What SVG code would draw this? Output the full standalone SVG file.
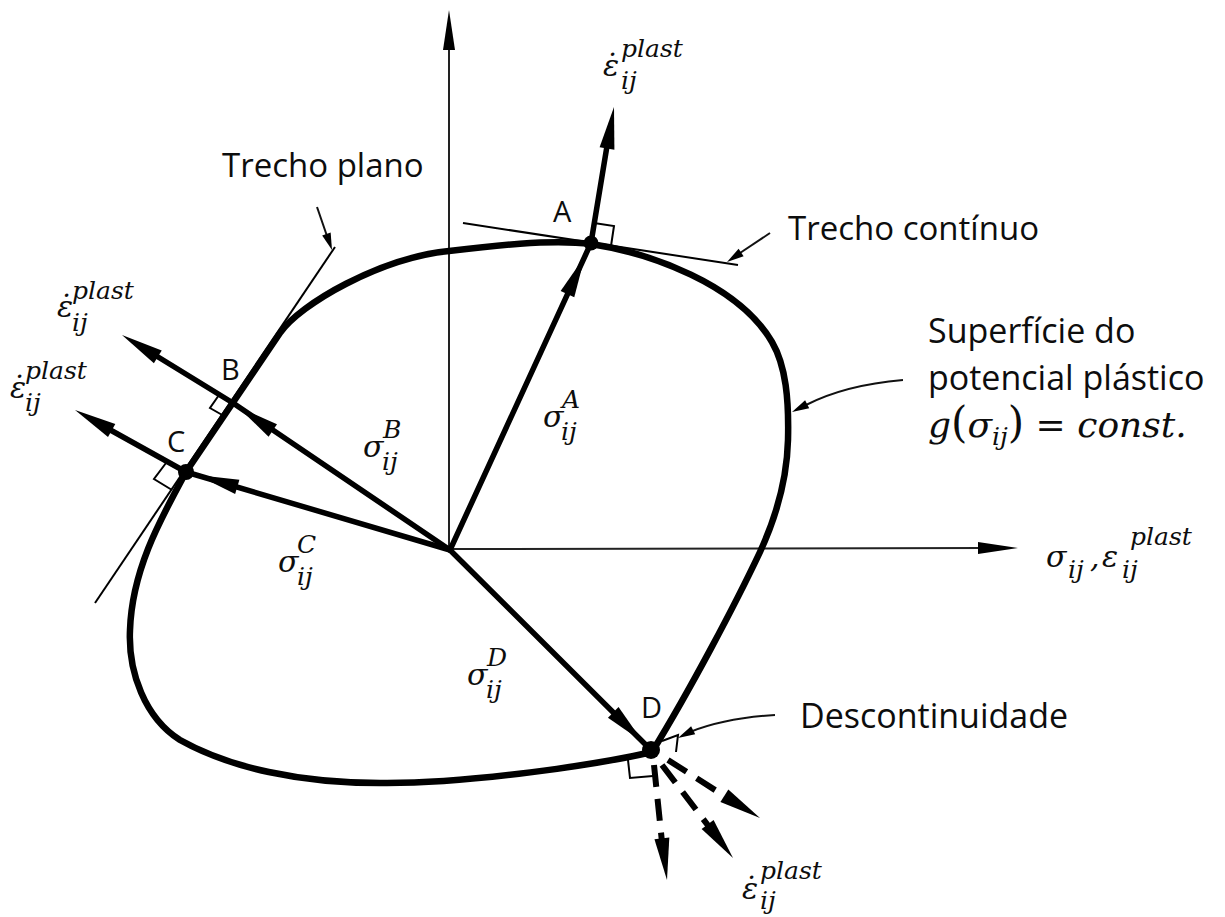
<svg xmlns="http://www.w3.org/2000/svg" width="1225" height="917" viewBox="0 0 1225 917">
<defs>
<path id="ah" d="M0,0 L-42,-7.5 L-42,7.5 Z"/>
<path id="aax" d="M0,0 L-40,-6 L-40,6 Z"/>
<path id="ahs" d="M0,0 L-17,-4.5 L-17,4.5 Z"/>
</defs>
<style>
.ax{stroke:#222;stroke-width:2;fill:none}
.vec{stroke:#000;stroke-width:5.5;fill:none;stroke-linecap:round}
.curve{stroke:#000;stroke-width:6.5;fill:none;stroke-linejoin:round}
.thin{stroke:#000;stroke-width:2;fill:none}
.lead{stroke:#111;stroke-width:2;fill:none}
.sq{stroke:#000;stroke-width:2;fill:none}
.dash{stroke:#000;stroke-width:6;fill:none;stroke-dasharray:22 12}
.lbl{font-family:"Open Sans","Liberation Sans",sans-serif;fill:#0d0d0d;font-size:33px}
.pt{font-family:"Open Sans","Liberation Sans",sans-serif;fill:#0d0d0d;font-size:29px}
.m{font-family:"DejaVu Serif","Liberation Serif",serif;font-style:italic;fill:#0d0d0d;font-size:30px}
.s{font-size:25px}
</style>
<rect width="1225" height="917" fill="#fff"/>

<g id="axes">
<line class="ax" x1="449" y1="552" x2="449" y2="45"/>
<use href="#aax" transform="translate(449,10) rotate(-90)"/>
<line class="ax" x1="450" y1="549" x2="985" y2="548"/>
<use href="#aax" transform="translate(1018,548)"/>
</g>

<g id="surface">
<path class="curve" d="M186,472 L280,333 C300,304 380,258 449,251 C490,246 550,239 591,244 C650,253 738,284 772,342 C786,366 789,400 788,440 C787,480 777,515 760,552 C735,605 690,690 652,752 C600,764 470,784 380,783 C300,783 230,768 180,740 C145,718 128,672 130,630 C132,570 160,520 186,472 Z"/>
</g>

<g id="connectors">
<line class="thin" x1="95" y1="603" x2="335" y2="247"/>
<line class="thin" x1="463" y1="223" x2="738" y2="265"/>
<line class="vec" x1="450" y1="550" x2="591" y2="243"/>
<use href="#ah" transform="translate(585,256) rotate(-65.3)"/>
<line class="vec" x1="450" y1="550" x2="233" y2="403"/>
<use href="#ah" transform="translate(238,407) rotate(-145.9)"/>
<line class="vec" x1="450" y1="550" x2="186" y2="472"/>
<use href="#ah" transform="translate(197,475) rotate(-163.5)"/>
<line class="vec" x1="450" y1="550" x2="651" y2="750"/>
<use href="#ah" transform="translate(643,742) rotate(44.9)"/>
<line class="lead" x1="317" y1="207" x2="327" y2="236"/>
<use href="#ahs" transform="translate(332,250) rotate(70.8)"/>
<line class="lead" x1="770" y1="233" x2="740" y2="253"/>
<use href="#ahs" transform="translate(727,262) rotate(146)"/>
<path class="lead" d="M903,380 Q845,385 806,405"/>
<use href="#ahs" transform="translate(792,412) rotate(153)"/>
<path class="lead" d="M775,715 Q725,718 690,732"/>
<use href="#ahs" transform="translate(678,738) rotate(153)"/>
</g>

<g id="nodeA">
<line class="vec" x1="591" y1="243" x2="608" y2="140"/>
<use href="#ah" transform="translate(614,107) rotate(-80.4)"/>
<path class="sq" d="M594,223 L614,226 L611,246"/>
<circle cx="591" cy="243" r="7.5"/>
<text class="pt" x="553" y="222">A</text>
</g>

<g id="nodeB">
<line class="vec" x1="233" y1="403" x2="150" y2="352"/>
<use href="#ah" transform="translate(122,335) rotate(-148.5)"/>
<path class="sq" d="M219,395 L210,408 L224,416"/>
<text class="pt" x="221" y="380">B</text>
</g>

<g id="nodeC">
<line class="vec" x1="186" y1="472" x2="105" y2="427"/>
<use href="#ah" transform="translate(75,410) rotate(-150.8)"/>
<path class="sq" d="M166,463 L154,479 L172,490"/>
<circle cx="186" cy="472" r="8"/>
<text class="pt" x="167" y="452">C</text>
</g>

<g id="nodeD">
<line class="dash" x1="654" y1="765" x2="662" y2="842"/>
<use href="#ah" transform="translate(667,880) rotate(83)"/>
<line class="dash" x1="662" y1="765" x2="710" y2="828"/>
<use href="#ah" transform="translate(733,858) rotate(52.8)"/>
<line class="dash" x1="668" y1="760" x2="726" y2="797"/>
<use href="#ah" transform="translate(760,818) rotate(32)"/>
<path class="sq" d="M628,760 L630,778 L653,776"/>
<path class="sq" d="M662,741 L678,735 L676,752"/>
<circle cx="651" cy="750" r="9"/>
<text class="pt" x="641" y="718">D</text>
</g>

<g id="labels">
<text class="lbl" x="222" y="177">Trecho plano</text>
<text class="lbl" x="788" y="240">Trecho contínuo</text>
<text class="lbl" x="928" y="343" style="font-size:34px">Superfície do</text>
<text class="lbl" x="928" y="390" style="font-size:34px">potencial plástico</text>
<text class="m" x="928" y="437" style="font-size:36px">g<tspan font-style="normal" font-size="42">(</tspan>σ<tspan class="s" dy="8">ij</tspan><tspan font-style="normal" font-size="42" dy="-8">)</tspan><tspan font-style="normal"> = </tspan>const.</text>
<text class="lbl" x="800" y="728" style="font-size:34px">Descontinuidade</text>

<text class="m"><tspan x="603" y="76">ε̇</tspan><tspan class="s" x="621" y="57">plast</tspan><tspan class="s" x="621" y="89">ij</tspan></text>
<text class="m"><tspan x="57" y="317">ε̇</tspan><tspan class="s" x="72" y="299">plast</tspan><tspan class="s" x="72" y="331">ij</tspan></text>
<text class="m"><tspan x="10" y="398">ε̇</tspan><tspan class="s" x="25" y="379">plast</tspan><tspan class="s" x="25" y="411">ij</tspan></text>
<text class="m"><tspan x="742" y="899">ε̇</tspan><tspan class="s" x="760" y="879">plast</tspan><tspan class="s" x="760" y="909">ij</tspan></text>
<text class="m"><tspan x="1046" y="567">σ</tspan><tspan class="s" x="1068" y="578">ij</tspan><tspan x="1090" y="567">,</tspan><tspan x="1102" y="567">ε</tspan><tspan class="s" x="1130" y="545">plast</tspan><tspan class="s" x="1122" y="578">ij</tspan></text>
<text class="m"><tspan x="543" y="427">σ</tspan><tspan class="s" x="562" y="408">A</tspan><tspan class="s" x="561" y="440">ij</tspan></text>
<text class="m"><tspan x="363" y="457">σ</tspan><tspan class="s" x="383" y="438">B</tspan><tspan class="s" x="382" y="470">ij</tspan></text>
<text class="m"><tspan x="278" y="572">σ</tspan><tspan class="s" x="297" y="553">C</tspan><tspan class="s" x="297" y="585">ij</tspan></text>
<text class="m"><tspan x="467" y="685">σ</tspan><tspan class="s" x="487" y="666">D</tspan><tspan class="s" x="486" y="698">ij</tspan></text>
</g>
</svg>
